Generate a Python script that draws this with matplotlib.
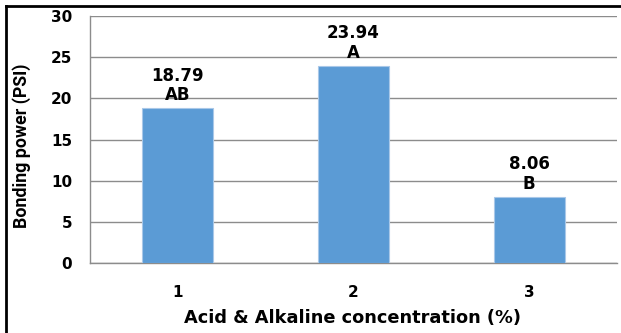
import matplotlib
matplotlib.use("Agg")
import matplotlib.pyplot as plt
from matplotlib.lines import Line2D

categories = ["1", "2", "3"]
bonding_power = [18.79, 23.94, 8.06]
groups = ["AB", "A", "B"]
y_ticks = [0, 5, 10, 15, 20, 25, 30]

W, H, DPI = 621, 333, 100
fig = plt.figure(figsize=(W / DPI, H / DPI), dpi=DPI)
fig.patch.set_facecolor("white")

# axes placed in pixel terms
left, right, top, bottom = 90, 617, 16, 263
ax = fig.add_axes([left / W, 1 - bottom / H, (right - left) / W, (bottom - top) / H])

x = list(range(len(categories)))
bars = ax.bar(x, bonding_power, width=0.405, color="#5B9BD5",
              edgecolor="#A9C8E8", linewidth=0.8, zorder=3)

ax.set_xlim(-0.5, len(categories) - 0.5)
ax.set_ylim(0, 30)
ax.set_yticks(y_ticks)
ax.set_xticks(x)
ax.set_xticklabels(categories)

ax.yaxis.grid(True, color="#8C8C8C", linewidth=1.0, zorder=0)
ax.set_axisbelow(True)
for side in ("top", "right"):
    ax.spines[side].set_visible(False)
for side in ("left", "bottom"):
    ax.spines[side].set_color("#8C8C8C")
    ax.spines[side].set_linewidth(1.0)

ax.tick_params(axis="both", length=0, labelsize=11, colors="black")
ax.tick_params(axis="y", pad=13)
ax.tick_params(axis="x", pad=16)
for lbl in ax.get_xticklabels() + ax.get_yticklabels():
    lbl.set_fontweight("bold")
    lbl.set_family("DejaVu Sans")

for xi, val, grp in zip(x, bonding_power, groups):
    ax.annotate(f"{val:.2f}\n{grp}", xy=(xi, val), xytext=(0, 4),
                textcoords="offset pixels", ha="center", va="bottom",
                fontsize=12, fontweight="bold", family="DejaVu Sans",
                linespacing=1.1)

fig.text(352.5 / W, 1 - 318 / H, "Acid & Alkaline concentration (%)",
         ha="center", va="center", fontsize=12.8, fontweight="bold",
         family="DejaVu Sans")
fig.text(22 / W, 1 - 146 / H, "Bonding power (PSI)", rotation=90,
         ha="center", va="center", fontsize=12.8, fontweight="bold",
         family="Roboto")

# frame lines along the top and left edges
fig.add_artist(Line2D([5.5 / W, 1.0], [1 - 5.5 / H, 1 - 5.5 / H],
                      color="black", linewidth=2.0, transform=fig.transFigure))
fig.add_artist(Line2D([5.5 / W, 5.5 / W], [0, 1 - 5.5 / H],
                      color="black", linewidth=2.0, transform=fig.transFigure))

fig.savefig("out.png", dpi=DPI)
